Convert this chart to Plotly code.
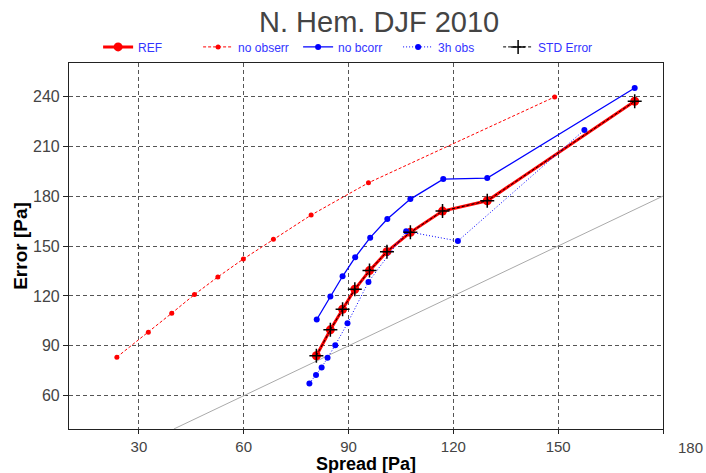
import plotly.graph_objects as go

# ---- data ----
ref_x = [80.8, 84.8, 88.3, 91.8, 96.0, 101.0, 107.7, 116.9, 129.7, 171.9]
ref_y = [84.0, 99.6, 112.0, 124.0, 135.2, 146.6, 158.2, 171.0, 177.2, 237.0]

noobs_x = [23.7, 32.7, 39.4, 45.9, 52.6, 59.9, 68.5, 79.3, 95.7, 149.0]
noobs_y = [83.2, 98.2, 109.6, 120.8, 131.4, 142.2, 154.0, 168.6, 188.0, 239.6]

nobc_x = [80.9, 84.8, 88.3, 91.9, 96.2, 101.1, 107.7, 117.1, 129.7, 171.9]
nobc_y = [105.8, 119.6, 131.8, 143.2, 155.0, 166.2, 178.2, 190.2, 190.8, 245.0]

h3_x = [78.8, 80.7, 82.3, 84.0, 86.2, 89.7, 95.7, 106.5, 121.3, 157.5]
h3_y = [67.4, 72.4, 77.0, 82.8, 90.4, 103.6, 128.4, 158.8, 153.0, 219.8]

std_x = [80.8, 84.8, 88.3, 91.8, 96.0, 101.0, 107.7, 116.9, 129.7, 171.9]
std_y = [84.0, 99.6, 112.0, 124.0, 135.2, 146.6, 158.2, 171.0, 177.2, 237.0]

diag = [40, 180]  # y = x reference line

x_ticks = [30, 60, 90, 120, 150, 180]
y_ticks = [60, 90, 120, 150, 180, 210, 240]

FONT = "Liberation Sans, Arial, sans-serif"

fig = go.Figure()
fig.add_trace(go.Scatter(x=diag, y=diag, mode="lines", showlegend=False,
                         line=dict(color="#aaaaaa", width=1), hoverinfo="skip"))
fig.add_trace(go.Scatter(x=ref_x, y=ref_y, name="REF", mode="lines+markers",
                         line=dict(color="#ff0000", width=3),
                         marker=dict(color="#ff0000", size=9, symbol="circle")))
fig.add_trace(go.Scatter(x=noobs_x, y=noobs_y, name="no obserr", mode="lines+markers",
                         line=dict(color="#ff0000", width=1, dash="3px,2px"),
                         marker=dict(color="#ff0000", size=5)))
fig.add_trace(go.Scatter(x=nobc_x, y=nobc_y, name="no bcorr", mode="lines+markers",
                         line=dict(color="#0000ff", width=1.3),
                         marker=dict(color="#0000ff", size=6)))
fig.add_trace(go.Scatter(x=h3_x, y=h3_y, name="3h obs", mode="lines+markers",
                         line=dict(color="#0000ff", width=1, dash="1px,2px"),
                         marker=dict(color="#0000ff", size=6)))
fig.add_trace(go.Scatter(x=std_x, y=std_y, name="STD Error", mode="lines+markers",
                         line=dict(color="#000000", width=1, dash="3px,2px"),
                         marker=dict(color="#000000", size=10, symbol="cross-thin",
                                     line=dict(color="#000000", width=1.5))))

fig.update_layout(
    width=706, height=473,
    margin=dict(l=69, r=43, t=63, b=44),
    paper_bgcolor="white", plot_bgcolor="white",
    font=dict(family=FONT, color="#444444"),
    title=dict(text="N. Hem. DJF 2010", x=0.537, xanchor="center",
               y=0.953, yanchor="middle",
               font=dict(size=29, color="#444444", family=FONT)),
    legend=dict(orientation="h", x=0.049, xanchor="left", y=1.044, yanchor="middle",
                font=dict(size=12, color="#3333ff", family=FONT),
                entrywidth=55, entrywidthmode="pixels",
                bgcolor="rgba(0,0,0,0)", itemwidth=30),
    showlegend=True,
)

fig.update_xaxes(range=[10, 180], tickvals=x_ticks,
                 ticktext=[str(v) if v != 180 else "" for v in x_ticks],
                 showgrid=True, gridcolor="#555555", griddash="4px,3px", gridwidth=1.2,
                 zeroline=False, showline=True, linecolor="#222222", linewidth=1.2,
                 mirror=True, ticks="outside", ticklen=4, tickcolor="#222222",
                 tickfont=dict(size=15, color="#444444", family=FONT),
                 automargin=False)
fig.update_yaxes(range=[40, 260], tickvals=y_ticks,
                 showgrid=True, gridcolor="#555555", griddash="4px,3px", gridwidth=1.2,
                 zeroline=False, showline=True, linecolor="#222222", linewidth=1.2,
                 mirror=True, ticks="outside", ticklen=5, tickcolor="#222222",
                 tickfont=dict(size=16, color="#444444", family=FONT),
                 title=dict(text="<b>Error [Pa]</b>", standoff=0,
                            font=dict(size=19, color="#000000", family=FONT)),
                 automargin=False)

# x-axis title, placed at the bottom edge of the page
fig.add_annotation(text="<b>Spread [Pa]</b>", xref="paper", yref="paper",
                   x=0.5, y=-0.125, xanchor="center", yanchor="bottom",
                   showarrow=False, borderpad=0,
                   font=dict(size=18, color="#000000", family=FONT))

fig.add_annotation(text="180", xref="paper", yref="paper", x=1.047, y=-0.022,
                   xanchor="center", yanchor="top", showarrow=False,
                   font=dict(size=15, color="#444444", family=FONT))

fig.write_html("out.html")
